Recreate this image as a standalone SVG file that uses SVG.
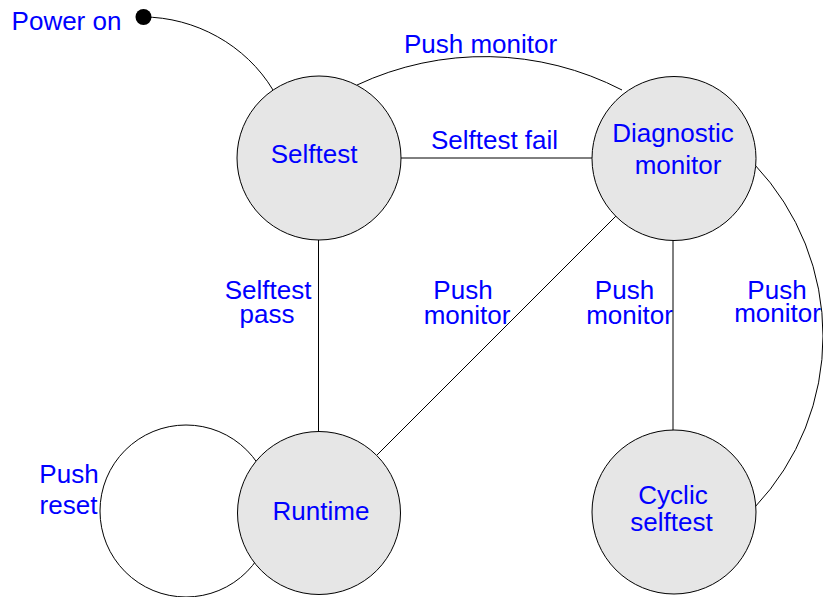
<svg xmlns="http://www.w3.org/2000/svg" width="823" height="597" viewBox="0 0 823 597">
  <style>
    .state { fill: #e6e6e6; stroke: #000; stroke-width: 1; }
    .edge { fill: none; stroke: #000; stroke-width: 1; }
    .lbl { font-family: "Liberation Sans", Arial, sans-serif; font-size: 26px; fill: #0000ff; text-anchor: middle; }
  </style>

  <g id="connectors">
    <!-- initial transition from the power-on dot -->
    <path class="edge" d="M143,17 C195,17 246,45 273,90"/>
    <!-- Selftest -> Diagnostic monitor (arched, top) -->
    <path class="edge" d="M357,85 A300,300 0 0 1 622,90"/>
    <!-- Selftest -> Diagnostic monitor (straight) -->
    <line class="edge" x1="400" y1="158" x2="593" y2="158"/>
    <!-- Selftest -> Runtime -->
    <line class="edge" x1="318.5" y1="240" x2="318.5" y2="431"/>
    <!-- Runtime -> Diagnostic monitor -->
    <line class="edge" x1="377" y1="455" x2="616" y2="216"/>
    <!-- Diagnostic monitor -> Cyclic selftest -->
    <line class="edge" x1="673" y1="240" x2="673" y2="431"/>
    <!-- Cyclic selftest -> Diagnostic monitor (arched, right) -->
    <path class="edge" d="M755,165 A249,249 0 0 1 755,507"/>
    <!-- Runtime self loop -->
    <circle class="edge" cx="186" cy="511" r="86"/>
  </g>

  <g id="power-on">
    <circle cx="143.5" cy="17" r="8" fill="#000"/>
    <text class="lbl" x="66.5" y="29.5">Power on</text>
  </g>

  <g id="selftest">
    <circle class="state" cx="319" cy="158" r="82"/>
    <text class="lbl" x="314" y="163">Selftest</text>
  </g>

  <g id="diagnostic-monitor">
    <circle class="state" cx="674" cy="158.5" r="82"/>
    <text class="lbl"><tspan x="673" y="142">Diagnostic</tspan><tspan x="678" y="173.5">monitor</tspan></text>
  </g>

  <g id="runtime">
    <circle class="state" cx="319" cy="513" r="81.5"/>
    <text class="lbl" x="321" y="520">Runtime</text>
  </g>

  <g id="cyclic-selftest">
    <circle class="state" cx="674" cy="512" r="82"/>
    <text class="lbl"><tspan x="673" y="503.5">Cyclic</tspan><tspan x="671.5" y="531">selftest</tspan></text>
  </g>

  <g id="edge-labels">
    <text class="lbl" x="480.5" y="52.5">Push monitor</text>
    <text class="lbl" x="494.5" y="148.5">Selftest fail</text>
    <text class="lbl"><tspan x="268" y="298.5">Selftest</tspan><tspan x="267" y="323">pass</tspan></text>
    <text class="lbl"><tspan x="463" y="299">Push</tspan><tspan x="467" y="323.5">monitor</tspan></text>
    <text class="lbl"><tspan x="624.5" y="299">Push</tspan><tspan x="629.5" y="323.5">monitor</tspan></text>
    <text class="lbl"><tspan x="777" y="298.5">Push</tspan><tspan x="777.5" y="322">monitor</tspan></text>
    <text class="lbl"><tspan x="69" y="482.5">Push</tspan><tspan x="68.5" y="513.5">reset</tspan></text>
  </g>
</svg>
